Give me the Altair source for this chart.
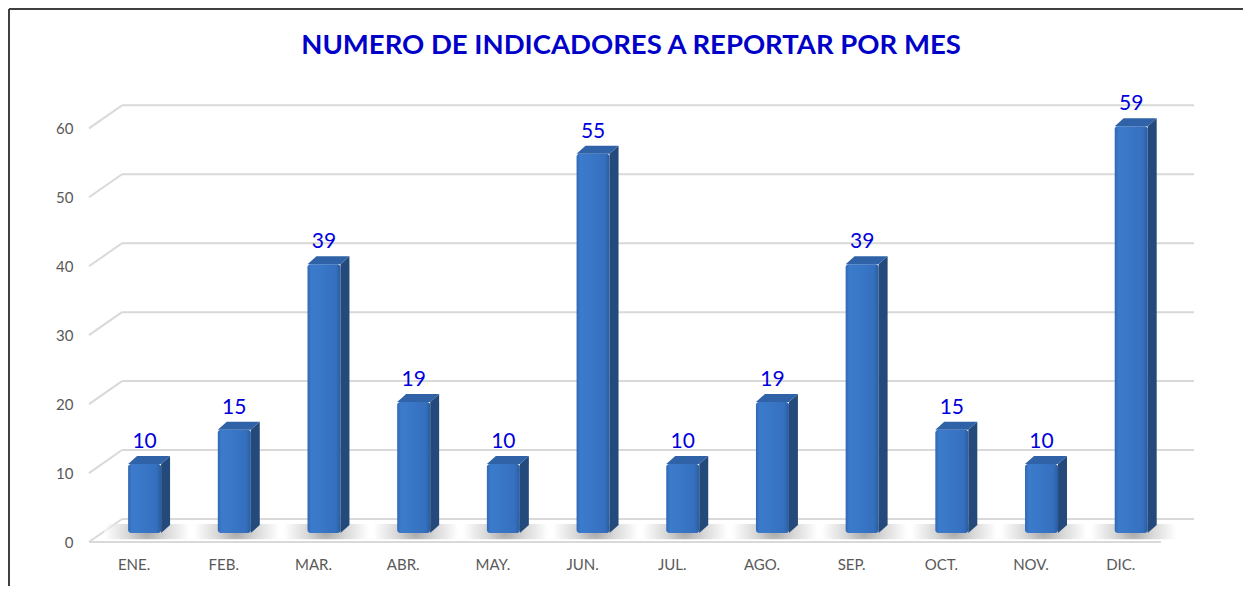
import altair as alt
import pandas as pd

# ---- data ----
months = ["ENE.", "FEB.", "MAR.", "ABR.", "MAY.", "JUN.", "JUL.", "AGO.", "SEP.", "OCT.", "NOV.", "DIC."]
values = [10, 15, 39, 19, 10, 55, 10, 19, 39, 15, 10, 59]
y_ticks = [0, 10, 20, 30, 40, 50, 60]
title = "NUMERO DE INDICADORES A REPORTAR POR MES"

# ---- pseudo-3D geometry (in scale units) ----
HALF = 0.184     # half width of bar front face (x units)
DEPTH_X = 0.10   # bar depth shift to the right (x units)
DEPTH_Y = 1.16   # bar depth shift upwards (y units)
BASE = 1.3       # bar bottom above floor front edge (y units)
WALL_X = 0.368   # wall depth (x units)
WALL_Y = 3.34    # wall depth (y units)
X_MIN, X_MAX = -0.62, 11.70
Y_MAX = 66

bars = pd.DataFrame({"idx": list(range(len(months))), "month": months, "value": values})
bars["y0"] = BASE
bars["y1"] = bars["value"] + BASE
bars["x0"] = bars["idx"] - HALF
bars["x1"] = bars["idx"] + HALF
bars["ytop"] = bars["y1"] + DEPTH_Y

side_rows, top_rows = [], []
for i, m, v in zip(range(len(months)), months, values):
    for k in (0, 1):
        side_rows.append({"month": m, "x": i + HALF + k * DEPTH_X,
                          "y": BASE + k * DEPTH_Y, "y2": v + BASE + k * DEPTH_Y})
        top_rows.append({"month": m, "y": v + BASE + k * DEPTH_Y,
                         "x": i - HALF + k * DEPTH_X, "x2": i + HALF + k * DEPTH_X})
side = pd.DataFrame(side_rows)
top = pd.DataFrame(top_rows)

grid = pd.DataFrame({"v": y_ticks})
grid["vb"] = grid["v"] + WALL_Y

x_scale = alt.Scale(domain=[X_MIN, X_MAX], nice=False, zero=False)
y_scale = alt.Scale(domain=[0, Y_MAX], nice=False, zero=False)

GRID_COLOR = "#d9d9d9"

# gridlines: slanted part + back wall part
slant = alt.Chart(grid).mark_rule(color=GRID_COLOR, strokeWidth=2).encode(
    x=alt.X("xa:Q", scale=x_scale), x2="xb:Q",
    y=alt.Y("v:Q", scale=y_scale), y2="vb:Q",
).transform_calculate(xa=str(X_MIN), xb=str(X_MIN + WALL_X))

back = alt.Chart(grid).mark_rule(color=GRID_COLOR, strokeWidth=2).encode(
    x=alt.X("xa:Q", scale=x_scale), x2="xb:Q",
    y=alt.Y("vb:Q", scale=y_scale),
).transform_calculate(xa=str(X_MIN + WALL_X), xb=str(X_MAX))

floor_front = alt.Chart(grid).transform_filter("datum.v == 0").mark_rule(
    color=GRID_COLOR, strokeWidth=2).encode(
    x=alt.X("xa:Q", scale=x_scale), x2="xb:Q",
    y=alt.Y("v:Q", scale=y_scale),
).transform_calculate(xa=str(X_MIN), xb=str(X_MAX - WALL_X))

# floor shadow under each bar
shadow = alt.Chart(bars).mark_rect(
    fill=alt.RadialGradient(
        gradient="radial", x1=0.5, y1=0.5, x2=0.5, y2=0.5, r1=0, r2=0.5,
        stops=[alt.GradientStop(offset=0, color="#6e6e6e"),
               alt.GradientStop(offset=0.45, color="#bdbdbd"),
               alt.GradientStop(offset=1, color="#ffffff", )]),
    opacity=0.6,
).encode(
    x=alt.X("sx0:Q", scale=x_scale), x2="sx1:Q",
    y=alt.Y("sy0:Q", scale=y_scale), y2="sy1:Q",
).transform_calculate(
    sx0="datum.idx - 0.45", sx1="datum.idx + 0.5",
    sy0="0.4", sy1="2.6",
)

front = alt.Chart(bars).mark_rect(
    cornerRadius=3,
    fill=alt.LinearGradient(
        gradient="linear", x1=0, y1=0, x2=1, y2=0,
        stops=[alt.GradientStop(offset=0, color="#3168b4"),
               alt.GradientStop(offset=0.12, color="#3c7bcc"),
               alt.GradientStop(offset=0.85, color="#3570bf"),
               alt.GradientStop(offset=1, color="#2b5d9f")]),
).encode(
    x=alt.X("x0:Q", scale=x_scale), x2="x1:Q",
    y=alt.Y("y0:Q", scale=y_scale), y2="y1:Q",
)

side_face = alt.Chart(side).mark_area(color="#244a7c", orient="vertical").encode(
    x=alt.X("x:Q", scale=x_scale),
    y=alt.Y("y:Q", scale=y_scale), y2="y2:Q",
    detail="month:N",
)

top_face = alt.Chart(top).mark_area(color="#2f62a6", orient="horizontal").encode(
    y=alt.Y("y:Q", scale=y_scale),
    x=alt.X("x:Q", scale=x_scale), x2="x2:Q",
    detail="month:N",
)

labels = alt.Chart(bars).mark_text(
    font="Lato", fontSize=21, color="#0000dd", baseline="bottom", dy=-4,
).encode(
    x=alt.X("idx:Q", scale=x_scale),
    y=alt.Y("ytop:Q", scale=y_scale),
    text="value:Q",
)

# axes (labels only)
month_expr = "[" + ",".join(f"'{m}'" for m in months) + "][round(datum.value)]"
axes = alt.Chart(bars).mark_point(opacity=0).encode(
    x=alt.X("idx:Q", scale=x_scale, title=None,
            axis=alt.Axis(values=list(range(len(months))), labelExpr=month_expr,
                          grid=False, domain=False, ticks=False, labelPadding=15,
                          labelOffset=-11, labelFont="Lato", labelFontSize=15,
                          labelColor="#595959")),
    y=alt.Y("value:Q", scale=y_scale, title=None,
            axis=alt.Axis(values=y_ticks, grid=False, domain=False, ticks=False,
                          labelPadding=16, labelFont="Lato", labelFontSize=15,
                          labelColor="#595959")),
)

# chart title as a text mark (keeps layout independent of the frame)
title_mark = alt.Chart(pd.DataFrame({"t": [title]})).mark_text(
    font="Lato", fontSize=27.5, fontWeight="bold", color="#0000c8",
    align="center", baseline="middle",
).encode(x=alt.value(542), y=alt.value(-41), text="t:N")

# outer frame (left and top edges visible in the reference)
frame_left = alt.Chart(bars).mark_rule(color="#404040", strokeWidth=1.5).encode(
    x=alt.value(-80), y=alt.value(-78), y2=alt.value(520))
frame_top = alt.Chart(bars).mark_rule(color="#404040", strokeWidth=1.5).encode(
    x=alt.value(-80), x2=alt.value(1170), y=alt.value(-78))

chart = alt.layer(
    frame_left, frame_top, title_mark,
    slant, back, floor_front, shadow,
    front, side_face, top_face, labels, axes,
).properties(
    width=1105, height=455,
    autosize=alt.AutoSizeParams(type="none"),
    padding={"left": 81, "top": 79, "right": 49, "bottom": 44},
).configure_view(stroke=None)

chart.save("out.html", embed_options={"renderer": "svg", "actions": False})
